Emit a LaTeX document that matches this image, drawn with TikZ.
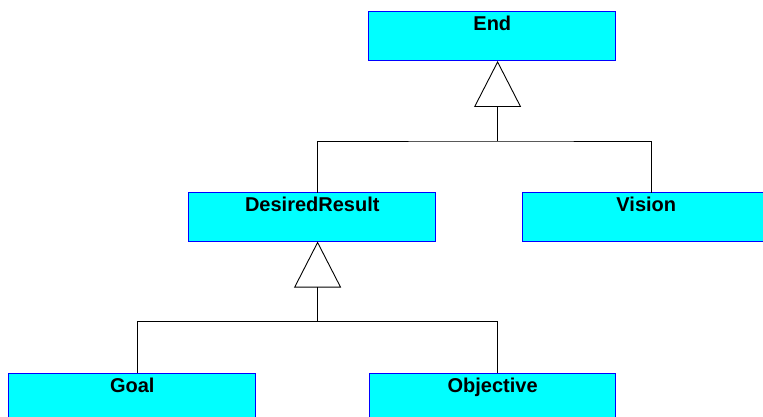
\documentclass[tikz,border=0pt]{standalone}
\usepackage{fontspec}
\setmainfont{Liberation Sans}
\usetikzlibrary{positioning,arrows.meta}

\definecolor{clsfill}{RGB}{0,255,255}
\definecolor{clsline}{RGB}{0,0,255}

\tikzset{
  cls/.style={draw=clsline, fill=clsfill, line width=1pt, minimum width=246.7pt,
    minimum height=49pt, inner sep=0pt, outer sep=0pt, text height=19pt, text depth=30pt,
    font=\fontsize{20}{24}\selectfont\bfseries},
  gen/.style={line width=0.9pt, -{Triangle[open, length=46pt, width=47pt]}},
  tree/.style={line width=0.9pt}
}

\begin{document}
\begin{tikzpicture}[x=1pt, y=-1pt]
  \useasboundingbox (0,0) rectangle (763,417);

  \node[cls] (end) at (492.3,36.5) {End};
  \node[cls] (dr) [below=131.5pt of end, xshift=-180pt] {DesiredResult};
  \node[cls] (vision) [right=87.3pt of dr] {Vision};
  \node[cls] (goal) [below=131.5pt of dr, xshift=-180pt] {Goal};
  \node[cls] (obj) [right=113.6pt of goal] {Objective};

  % attachment points
  \coordinate (endin) at ([xshift=5.3pt]end.south);
  \coordinate (endbar) at ([yshift=-80pt]endin);
  \coordinate (drin) at ([xshift=5.3pt]dr.south);
  \coordinate (drbar) at ([yshift=-80pt]drin);
  \coordinate (drtop) at ([xshift=5.3pt]dr.north);
  \coordinate (visiontop) at ([xshift=5.3pt]vision.north);
  \coordinate (goaltop) at ([xshift=5.3pt]goal.north);
  \coordinate (objtop) at ([xshift=5.3pt]obj.north);

  \draw[gen] (endbar) -- (endin);
  \draw[tree] (drtop) |- (endbar) -| (visiontop);

  \draw[gen] (drbar) -- (drin);
  \draw[tree] (goaltop) |- (drbar) -| (objtop);
\end{tikzpicture}
\end{document}
